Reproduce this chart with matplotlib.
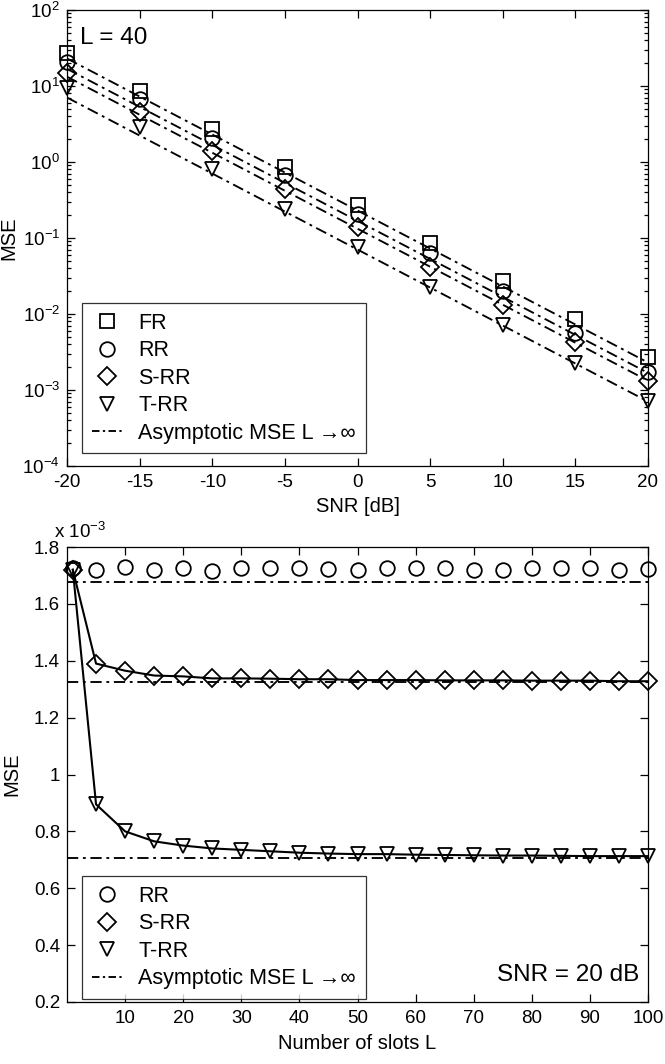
import matplotlib
matplotlib.use("Agg")
import matplotlib.pyplot as plt
from matplotlib.lines import Line2D

plt.rcParams['font.family'] = ['Liberation Sans', 'DejaVu Sans']
plt.rcParams['mathtext.fontset'] = 'custom'
plt.rcParams['mathtext.rm'] = 'Liberation Sans'
plt.rcParams['mathtext.it'] = 'Liberation Sans'
plt.rcParams['axes.unicode_minus'] = False

# ---------------- top panel data (L = 40) ----------------
snr_db = [-20, -15, -10, -5, 0, 5, 10, 15, 20]
mse_fr = [27, 8.5, 2.7, 0.85, 0.27, 0.085, 0.027, 0.0085, 0.0027]
mse_rr = [21, 6.8, 2.1, 0.68, 0.21, 0.063, 0.02, 0.0057, 0.00172]
mse_srr = [15, 4.5, 1.4, 0.44, 0.14, 0.042, 0.013, 0.0043, 0.00133]
mse_trr = [9.5, 2.9, 0.82, 0.24, 0.075, 0.023, 0.0072, 0.0023, 0.00072]
asym_snr = [-20, 20]
asym_fr = [23, 0.0023]
asym_rr = [16.8, 0.00168]
asym_srr = [13.25, 0.001325]
asym_trr = [7.05, 0.000705]

# ---------------- bottom panel data (SNR = 20 dB), units of 1e-3 ----------------
slots = [1, 5, 10, 15, 20, 25, 30, 35, 40, 45, 50, 55, 60, 65, 70, 75, 80, 85, 90, 95, 100]
rr_L = [1.725, 1.718, 1.728, 1.720, 1.726, 1.717, 1.725, 1.725, 1.725, 1.724, 1.720,
        1.725, 1.725, 1.725, 1.720, 1.720, 1.725, 1.725, 1.725, 1.720, 1.721]
srr_L = [1.72, 1.39, 1.365, 1.348, 1.345, 1.338, 1.338, 1.337, 1.335, 1.335, 1.332,
         1.332, 1.332, 1.331, 1.331, 1.331, 1.330, 1.330, 1.330, 1.328, 1.328]
trr_L = [1.72, 0.895, 0.80, 0.765, 0.75, 0.74, 0.735, 0.73, 0.725, 0.722, 0.72,
         0.72, 0.718, 0.717, 0.716, 0.715, 0.715, 0.714, 0.713, 0.713, 0.713]
asym_rr_L = 1.678
asym_srr_L = 1.325
asym_trr_L = 0.707

W, H = 665, 1064
fig = plt.figure(figsize=(W / 100, H / 100), dpi=100)

def ax_rect(l, r, t, b):
    return [l / W, 1 - b / H, (r - l) / W, (b - t) / H]

ax1 = fig.add_axes(ax_rect(67, 648, 10, 466))
ax2 = fig.add_axes(ax_rect(67, 648, 547, 1002))

ms = 10.5
mew = 1.3
dd = (6, 2.5, 1.5, 2.5)
lw_a = 1.35
FS = 13.5
LFS = 15.5

mk = dict(linestyle='none', markersize=ms, markerfacecolor='none',
          markeredgecolor='black', markeredgewidth=mew)
mk_s = dict(mk, markersize=9.5)
mk_d = dict(mk, markersize=9)

# top panel
for y in (asym_fr, asym_rr, asym_srr, asym_trr):
    ax1.plot(asym_snr, y, color='black', lw=lw_a, dashes=dd)
ax1.plot(snr_db, mse_fr, marker='s', clip_on=False, zorder=3, **mk_s)
ax1.plot(snr_db, mse_rr, marker='o', clip_on=False, zorder=3, **mk)
ax1.plot(snr_db, mse_srr, marker='D', clip_on=False, zorder=3, **mk_d)
ax1.plot(snr_db, mse_trr, marker='v', clip_on=False, zorder=3, **mk)
ax1.set_yscale('log')
ax1.set_xlim(-20, 20)
ax1.set_ylim(1e-4, 1e2)
ax1.set_xticks([-20, -15, -10, -5, 0, 5, 10, 15, 20])
ax1.set_yticks([1e-4, 1e-3, 1e-2, 1e-1, 1e0, 1e1, 1e2])
ax1.set_yticklabels(['10$^{-4}$', '10$^{-3}$', '10$^{-2}$', '10$^{-1}$',
                     '10$^{0}$', '10$^{1}$', '10$^{2}$'])
ax1.set_xlabel('SNR [dB]', fontsize=14.5, labelpad=4)
ax1.set_ylabel('MSE', fontsize=14.5, labelpad=3)
ax1.text(0.022, 0.963, 'L = 40', transform=ax1.transAxes, fontsize=17.5,
         ha='left', va='top')

h_fr = Line2D([], [], marker='s', **mk_s)
h_rr = Line2D([], [], marker='o', **mk)
h_srr = Line2D([], [], marker='D', **mk_d)
h_trr = Line2D([], [], marker='v', **mk)
h_as = Line2D([], [], color='black', lw=lw_a, dashes=(4, 1.8, 1.2, 1.8))
lab_as = 'Asymptotic MSE L \u2192\u221e'
legkw = dict(loc='lower left', fontsize=LFS, frameon=True, fancybox=False,
             edgecolor='black', handlelength=1.4, handletextpad=0.75,
             labelspacing=0.3, borderpad=0.45, borderaxespad=0)
leg1 = ax1.legend([h_fr, h_rr, h_srr, h_trr, h_as],
                  ['FR', 'RR', 'S-RR', 'T-RR', lab_as],
                  bbox_to_anchor=(0.026, 0.028), **legkw)
leg1.get_frame().set_linewidth(0.9)
leg1.set_zorder(5)

# bottom panel
ax2.axhline(asym_rr_L, color='black', lw=lw_a, dashes=dd)
ax2.axhline(asym_srr_L, color='black', lw=lw_a, dashes=dd)
ax2.axhline(asym_trr_L, color='black', lw=lw_a, dashes=dd)
ax2.plot(slots, srr_L, color='black', lw=1.5, marker='D', markersize=9,
         markerfacecolor='none', markeredgecolor='black', markeredgewidth=mew,
         clip_on=False, zorder=3)
ax2.plot(slots, trr_L, color='black', lw=1.5, marker='v', markersize=ms,
         markerfacecolor='none', markeredgecolor='black', markeredgewidth=mew,
         clip_on=False, zorder=3)
ax2.plot(slots, rr_L, marker='o', clip_on=False, zorder=3, **mk)
ax2.set_xlim(0, 100)
ax2.set_ylim(0.2, 1.8)
ax2.set_xticks([10, 20, 30, 40, 50, 60, 70, 80, 90, 100])
ax2.set_yticks([0.2, 0.4, 0.6, 0.8, 1.0, 1.2, 1.4, 1.6, 1.8])
ax2.set_yticklabels(['0.2', '0.4', '0.6', '0.8', '1', '1.2', '1.4', '1.6', '1.8'])
ax2.set_xlabel('Number of slots L', fontsize=14.5, labelpad=5)
ax2.set_ylabel('MSE', fontsize=14.5, labelpad=9)
ax2.text(0.022, 1.012, 'x 10$^{-3}$', transform=ax2.transAxes, fontsize=13.5,
         ha='center', va='bottom')
ax2.text(0.985, 0.035, 'SNR = 20 dB', transform=ax2.transAxes, fontsize=17.5,
         ha='right', va='bottom')
leg2 = ax2.legend([h_rr, h_srr, h_trr, h_as],
                  ['RR', 'S-RR', 'T-RR', lab_as],
                  bbox_to_anchor=(0.026, 0.007), **legkw)
leg2.get_frame().set_linewidth(0.9)
leg2.set_zorder(5)

for ax in (ax1, ax2):
    ax.tick_params(which='both', direction='in', top=True, right=True,
                   labelsize=FS, width=0.9)
    ax.tick_params(which='major', length=6)
    ax.tick_params(which='minor', length=3)
    ax.tick_params(axis='x', pad=6)
    ax.tick_params(axis='y', pad=5)
    for s in ax.spines.values():
        s.set_linewidth(0.9)
ax1.tick_params(axis='x', which='minor', bottom=False, top=False)

fig.savefig('out.png', dpi=100)
